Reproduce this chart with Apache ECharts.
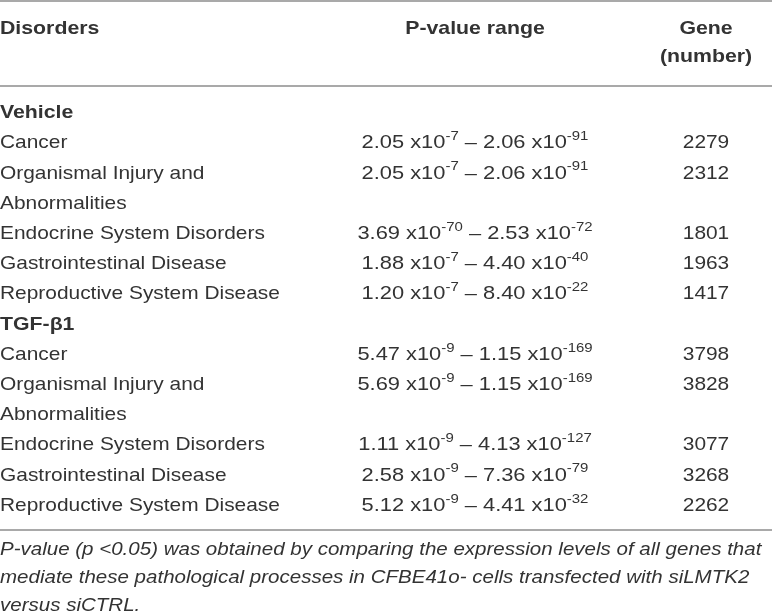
<!DOCTYPE html>
<html>
<head>
<meta charset="utf-8">
<script src="https://cdn.jsdelivr.net/npm/echarts@6/dist/echarts.min.js"></script>
<style>
html, body { margin: 0; padding: 0; background: #fff; }
#main { width: 772px; height: 616px; }
</style>
</head>
<body>
<div id="main"></div>
<script>
// table content
var headers = ['Disorders', 'P-value range', 'Gene\n(number)'];
var groups = ['Vehicle', 'TGF-β1'];
var disorders = ['Cancer', 'Organismal Injury and\nAbnormalities', 'Endocrine System Disorders', 'Gastrointestinal Disease', 'Reproductive System Disease'];
var vehicleFrom = [[2.05, -7], [2.05, -7], [3.69, -70], [1.88, -7], [1.20, -7]];
var vehicleTo = [[2.06, -91], [2.06, -91], [2.53, -72], [4.40, -40], [8.40, -22]];
var vehicleGenes = [2279, 2312, 1801, 1963, 1417];
var tgfFrom = [[5.47, -9], [5.69, -9], [1.11, -9], [2.58, -9], [5.12, -9]];
var tgfTo = [[1.15, -169], [1.15, -169], [4.13, -127], [7.36, -79], [4.41, -32]];
var tgfGenes = [3798, 3828, 3077, 3268, 2262];
var footnote = [
    'P-value (p <0.05) was obtained by comparing the expression levels of all genes that',
    'mediate these pathological processes in CFBE41o- cells transfected with siLMTK2',
    'versus siCTRL.'
];

// layout
var W = 772, H = 616;
var colX = [0, 475, 706];
var headY = 29, headStep = 28;
var firstRowY = 113, rowStep = 30.2;
var rules = [1, 86, 530];
var noteY = 550, noteStep = 28;
var font = '"Liberation Sans", Arial, Helvetica, sans-serif';
var ink = '#333';
var fs = 19;
var sxText = 1.1, sxHead = 1.12, sxP = 1.15, sxNote = 1.08;

function pv(v) {
    return '{m|' + v[0].toFixed(2) + ' x10}{s|' + v[1] + '}';
}

// each cell: [x, y, text, align, weight, style, scaleX]
var cells = [];

headers.forEach(function(h, i) {
    h.split('\n').forEach(function(line, k) {
        cells.push([colX[i], headY + k * headStep, line, i === 0 ? 'left' : 'center', 'bold', 'normal', sxHead]);
    });
});

var slot = 0;
[[vehicleFrom, vehicleTo, vehicleGenes], [tgfFrom, tgfTo, tgfGenes]].forEach(function(g, gi) {
    cells.push([colX[0], firstRowY + slot * rowStep, groups[gi], 'left', 'bold', 'normal', sxHead]);
    slot++;
    disorders.forEach(function(d, i) {
        var y = firstRowY + slot * rowStep;
        var lines = d.split('\n');
        lines.forEach(function(line, k) {
            cells.push([colX[0], y + k * rowStep, line, 'left', 'normal', 'normal', sxText]);
        });
        cells.push([colX[1], y, pv(g[0][i]) + '{m| – }' + pv(g[1][i]), 'center', 'normal', 'normal', sxP]);
        cells.push([colX[2], y, String(g[2][i]), 'center', 'normal', 'normal', sxText]);
        slot += lines.length;
    });
});

footnote.forEach(function(line, i) {
    cells.push([0, noteY + i * noteStep, line, 'left', 'normal', 'italic', sxNote]);
});

var chart = echarts.init(document.getElementById('main'), null, { renderer: 'canvas' });

var option = {
    backgroundColor: '#fff',
    animation: false,
    grid: { left: 0, right: 0, top: 0, bottom: 0 },
    xAxis: { type: 'value', min: 0, max: W, show: false },
    yAxis: { type: 'value', min: 0, max: H, inverse: true, show: false },
    graphic: rules.map(function(y) {
        return {
            type: 'line',
            shape: { x1: 0, y1: y, x2: W, y2: y },
            style: { stroke: '#8c8c8c', lineWidth: 1.5 }
        };
    }),
    series: [{
        type: 'custom',
        silent: true,
        data: cells.map(function(c) { return [c[0], c[1]]; }),
        renderItem: function(params, api) {
            var c = cells[params.dataIndex];
            var pt = api.coord([api.value(0), api.value(1)]);
            return {
                type: 'text',
                x: pt[0],
                y: pt[1],
                scaleX: c[6],
                style: {
                    text: c[2],
                    fill: ink,
                    fontFamily: font,
                    fontSize: fs,
                    fontWeight: c[4],
                    fontStyle: c[5],
                    align: c[3],
                    verticalAlign: 'middle',
                    rich: {
                        m: { fontFamily: font, fontSize: fs, fill: ink, lineHeight: 26 },
                        s: { fontFamily: font, fontSize: 13, fill: ink, lineHeight: 13, verticalAlign: 'top' }
                    }
                }
            };
        }
    }]
};

chart.setOption(option);
</script>
</body>
</html>
